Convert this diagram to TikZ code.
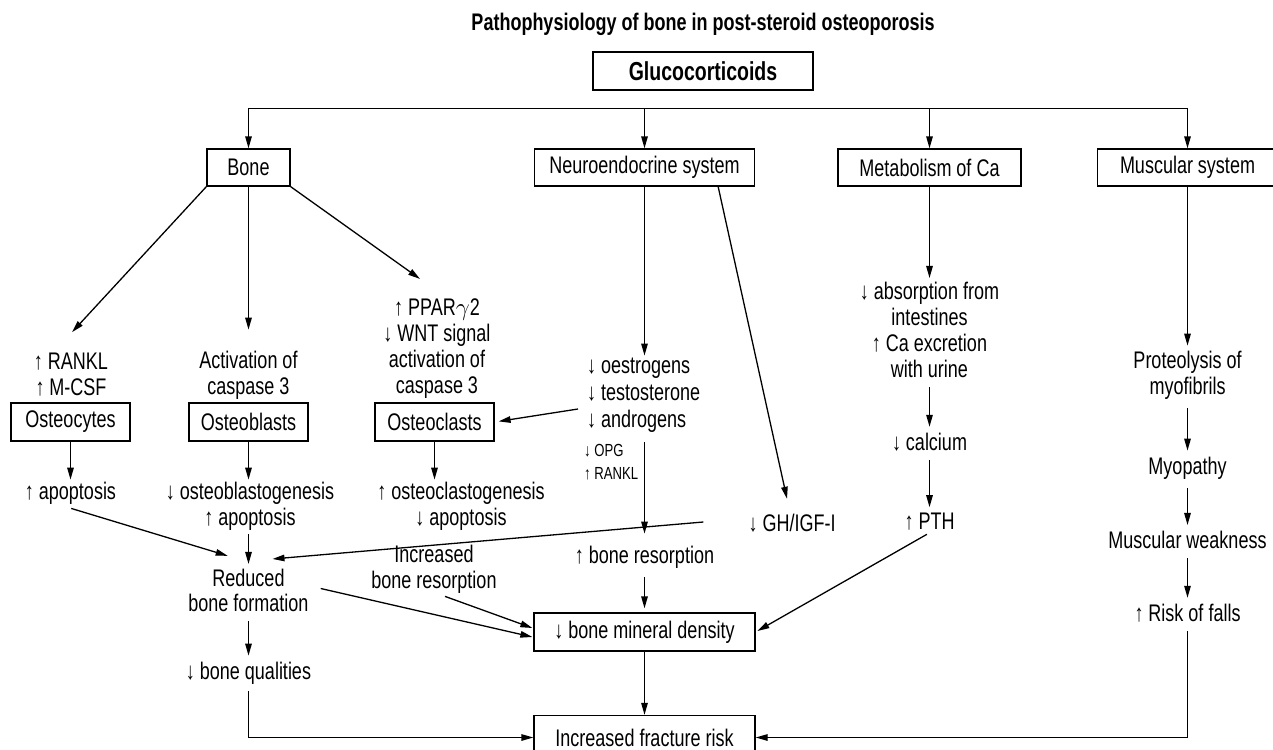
\documentclass[tikz,border=0pt]{standalone}
\usepackage{fontspec}
\setmainfont{Liberation Sans}[FakeStretch=0.75]
\usetikzlibrary{arrows.meta,calc}
\begin{document}
\begin{tikzpicture}[x=1pt,y=-1pt,
  every node/.style={font=\fontsize{24}{26}\selectfont, inner sep=2pt, align=center},
  box/.style={draw, line width=1.3pt, minimum height=37pt},
  ln/.style={line width=1.3pt},
  arr/.style={ln, -{Triangle[length=12pt,width=6.5pt]}},
  tt/.style={arr, shorten <=7pt, shorten >=4pt}]
\useasboundingbox (0,0) rectangle (1273,749);
% title and top
\node[font=\fontsize{24}{26}\selectfont\bfseries] (title) at (703,24) {Pathophysiology of bone in post-steroid osteoporosis};
\node[box, minimum width=220pt, minimum height=38pt, font=\fontsize{26}{28}\selectfont\bfseries] (gluco) at (703,71) {Glucocorticoids};
\node[box, minimum width=83pt] (bone) at (248.5,167.5) {Bone};
\node[box, minimum width=220pt] (neuro) at (644.5,167.5) {Neuroendocrine system};
\node[box, minimum width=183pt] (meta) at (929.5,167.5) {Metabolism of Ca};
\node[box, minimum width=180pt] (musc) at (1187.5,167.5) {Muscular system};
% bone column texts
\node (rankl) at (71,375) {↑ RANKL\\↑ M-CSF};
\node (act) at (248.5,375) {Activation of\\caspase 3};
\node (ppar) at (437,349) {↑ PPAR$\gamma$2\\↓ WNT signal\\activation of\\caspase 3};
\node[box, minimum width=119pt, minimum height=38pt] (ocy) at (70.5,422) {Osteocytes};
\node[box, minimum width=119pt, minimum height=38pt] (obl) at (248.5,422) {Osteoblasts};
\node[box, minimum width=119pt, minimum height=38pt] (ocl) at (434.5,422) {Osteoclasts};
\node (apop) at (70.5,493) {↑ apoptosis};
\node (obg) at (250,506) {↓ osteoblastogenesis\\↑ apoptosis};
\node (ocg) at (461,506) {↑ osteoclastogenesis\\↓ apoptosis};
\node[font=\fontsize{24}{25}\selectfont] (red) at (248.5,590.5) {Reduced\\bone formation};
\node (qual) at (248.5,673) {↓ bone qualities};
\node (incr) at (434,569) {Increased\\bone resorption};
% neuroendocrine column
\node[anchor=west, align=left, font=\fontsize{24}{27}\selectfont] (horm) at (585,395) {↓ oestrogens\\↓ testosterone\\↓ androgens};
\node[anchor=west, align=left, font=\fontsize{17.5}{23}\selectfont] (opg) at (582,462.5) {↓ OPG\\↑ RANKL};
\node (gh) at (792,523) {↓ GH/IGF-I};
\node (bres) at (644.5,557) {↑ bone resorption};
\node[box, minimum width=221pt, minimum height=38pt] (bmd) at (644.5,632) {↓ bone mineral density};
\node[box, minimum width=221pt, minimum height=44pt] (frac) at (644.5,737.5) {Increased fracture risk};
% Ca column
\node (abs) at (929.5,330) {↓ absorption from\\intestines\\↑ Ca excretion\\with urine};
\node (calc) at (929.5,442) {↓ calcium};
\node (pth) at (929.5,522) {↑ PTH};
% muscular column
\node (prot) at (1187.5,375) {Proteolysis of\\myofibrils};
\node (myo) at (1187.5,468) {Myopathy};
\node (weak) at (1187.5,540) {Muscular weakness};
\node (falls) at (1187.5,613) {↑ Risk of falls};
% bus
\coordinate (busL) at (248.5,108.5);
\coordinate (busR) at (1187.5,108.5);
\draw[ln] (busL) -- (busR);
\draw[arr] (bone.north |- busL) -- (bone.north);
\draw[arr] (neuro.north |- busL) -- (neuro.north);
\draw[arr] (meta.north |- busL) -- (meta.north);
\draw[arr] (musc.north |- busL) -- (musc.north);
% bone branches
\draw[arr] (bone.south west) -- ($(rankl.north)+(1,-19)$);
\draw[arr] (bone.south) -- ($(act.north)+(0,-19)$);
\draw[arr] (bone.south east) -- ($(ppar.north)+(-17,-18)$);
\draw[arr] (ocy.south) -- (apop.north);
\draw[arr] (obl.south) -- (obl.south |- obg.north);
\draw[arr] (ocl.south) -- (ocl.south |- ocg.north);
\draw[arr, shorten >=4pt] ($(horm.west)+(-7,14)$) -- (ocl.east);
\draw[tt] (apop.south) ++(-6,0) -- ($(red.north)+(-17,-10)$);
\draw[arr, shorten <=2pt, shorten >=3pt] (obg.south -| red.north) -- (red.north);
\draw[arr] ($(gh.west)+(-43,-1)$) -- ($(red.north)+(24,-8)$);
\draw[arr] ($(red.east)+(10,-2)$) -- ($(bmd.west)+(-1,5)$);
\draw[arr] ($(incr.south)+(11,1)$) -- ($(bmd.west)+(-1,-4)$);
\draw[tt] (red.south) -- (qual.north);
\draw[arr, shorten <=5pt] (qual.south) |- (frac.west);
% neuro branches
\draw[arr] (neuro.south) -- (neuro.south |- horm.north);
\draw[arr] ($(neuro.south east)+(-37,0)$) -- ($(gh.north)+(-5,-13)$);
\draw[arr, shorten <=8pt, shorten >=10pt] (horm.south -| bres.north) -- (bres.north);
\draw[tt] (bres.south) -- (bmd.north);
\draw[arr] (bmd.south) -- (frac.north);
% Ca branches
\draw[arr, shorten >=2pt] (meta.south) -- (abs.north);
\draw[tt] (abs.south) -- (calc.north);
\draw[tt] (calc.south) -- (pth.north);
\draw[arr, shorten <=3pt, shorten >=2pt] (pth.south) -- (bmd.east);
% muscular branches
\draw[arr, shorten >=3pt] (musc.south) -- (prot.north);
\draw[tt] (prot.south) -- (myo.north);
\draw[tt] (myo.south) -- (weak.north);
\draw[tt] (weak.south) -- (falls.north);
\draw[arr, shorten <=7pt] (falls.south) |- (frac.east);
\end{tikzpicture}
\end{document}
